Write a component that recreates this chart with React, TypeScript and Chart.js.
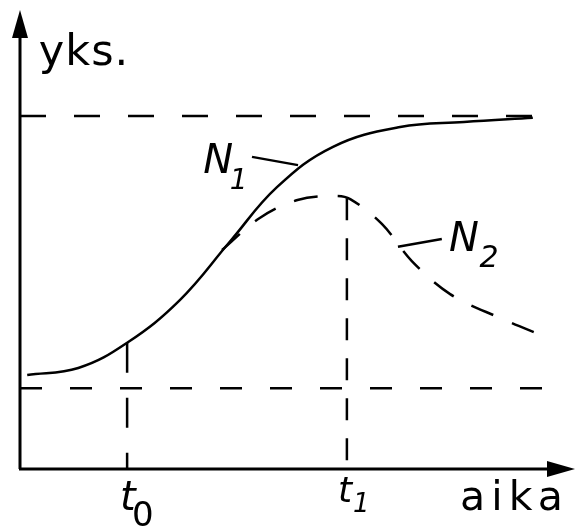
import React, { useEffect, useRef } from "react";
import { Chart, registerables } from "chart.js";

Chart.register(...registerables);

// Time axis: 0..100, value axis ("yks."): 0..100
const n1Time = [1.3, 10.5, 19.3, 28.8, 37.8, 46.3, 56.4, 68.5, 80, 92.4];
const n1Value = [20.5, 22, 27.5, 36.8, 49.5, 61.4, 70.2, 74.5, 75.6, 76.5];

const n2Time = [36.4, 43.2, 50.0, 56.8, 59.5, 65.2, 70.6, 77.5, 86.5, 94.6];
const n2Value = [47.7, 54.7, 58.6, 59.5, 58.8, 53.4, 45.3, 38.1, 32.9, 28.8];

const upperLevel = 76.9;
const upperEnd = 92.8;
const lowerLevel = 17.6;
const lowerEnd = 94.6;

const t0 = 19.3;
const n1AtT0 = 27.5;
const t1 = 58.9;
const n2AtT1 = 59.0;

const n1LeaderTime = [41.8, 50.1];
const n1LeaderValue = [68.0, 66.2];
const n2LeaderTime = [76.0, 68.1];
const n2LeaderValue = [50.1, 48.4];

const yAxisLabel = "yks.";
const xAxisLabel = "aika";
const seriesLabels = ["N", "1", "N", "2"];
const timeLabels = ["t", "0", "1"];

const pts = (xs: number[], ys: number[]) => xs.map((x, i) => ({ x, y: ys[i] }));

const INK = "#000000";

export default function App() {
  const ref = useRef<HTMLCanvasElement | null>(null);

  useEffect(() => {
    if (!ref.current) return;

    const overlay = {
      id: "overlay",
      beforeDatasetsDraw(chart: any) {
        const { ctx, chartArea } = chart;
        const { left, right, top, bottom } = chartArea;
        ctx.save();
        ctx.strokeStyle = INK;
        ctx.fillStyle = INK;
        ctx.lineWidth = 3;
        ctx.lineCap = "butt";
        ctx.beginPath();
        ctx.moveTo(left, bottom);
        ctx.lineTo(left, top + 20);
        ctx.stroke();
        ctx.beginPath();
        ctx.moveTo(left, top);
        ctx.lineTo(left - 8, top + 28);
        ctx.lineTo(left + 8, top + 28);
        ctx.closePath();
        ctx.fill();
        ctx.beginPath();
        ctx.moveTo(left - 1, bottom);
        ctx.lineTo(right - 20, bottom);
        ctx.stroke();
        ctx.beginPath();
        ctx.moveTo(right, bottom);
        ctx.lineTo(right - 28, bottom - 8);
        ctx.lineTo(right - 28, bottom + 8);
        ctx.closePath();
        ctx.fill();
        ctx.restore();
      },
      afterDraw(chart: any) {
        const { ctx, scales } = chart;
        const xs = scales.x;
        const ys = scales.y;
        ctx.save();
        ctx.fillStyle = INK;
        ctx.textBaseline = "alphabetic";
        ctx.textAlign = "left";

        ctx.font = "43px 'DejaVu Sans'";
        (ctx as any).letterSpacing = "1px";
        ctx.fillText(yAxisLabel, xs.getPixelForValue(3.4), ys.getPixelForValue(88.0));

        ctx.font = "41px 'DejaVu Sans'";
        (ctx as any).letterSpacing = "6px";
        ctx.fillText(xAxisLabel, xs.getPixelForValue(79.3), ys.getPixelForValue(-9.0));
        (ctx as any).letterSpacing = "0px";

        ctx.font = "italic 40px 'DejaVu Sans'";
        const t0x = xs.getPixelForValue(t0);
        ctx.fillText(timeLabels[0], t0x - 7, ys.getPixelForValue(-8.9));
        ctx.font = "34px 'DejaVu Sans'";
        ctx.fillText(timeLabels[1], t0x + 5, ys.getPixelForValue(-12.4));

        ctx.font = "italic 36px 'DejaVu Sans'";
        const t1x = xs.getPixelForValue(t1);
        ctx.fillText(timeLabels[0], t1x - 9, ys.getPixelForValue(-7.2));
        ctx.font = "italic 26px 'DejaVu Sans'";
        ctx.fillText(timeLabels[2], t1x + 6, ys.getPixelForValue(-9.4));

        ctx.font = "italic 40px 'DejaVu Sans'";
        ctx.fillText(seriesLabels[0], xs.getPixelForValue(33.0), ys.getPixelForValue(64.5));
        ctx.font = "italic 28px 'DejaVu Sans'";
        ctx.fillText(seriesLabels[1], xs.getPixelForValue(37.8), ys.getPixelForValue(61.0));

        ctx.font = "italic 40px 'DejaVu Sans'";
        ctx.fillText(seriesLabels[2], xs.getPixelForValue(77.3), ys.getPixelForValue(47.4));
        ctx.font = "italic 30px 'DejaVu Sans'";
        ctx.fillText(seriesLabels[3], xs.getPixelForValue(82.8), ys.getPixelForValue(44.0));
        ctx.restore();
      },
    };

    const dashed = (data: any[], dash: number[], width = 2.5, tension = 0) => ({
      data,
      borderColor: INK,
      borderWidth: width,
      borderDash: dash,
      pointRadius: 0,
      fill: false,
      tension,
    });

    const chart = new Chart(ref.current, {
      type: "line",
      data: {
        datasets: [
          dashed(pts([0, upperEnd], [upperLevel, upperLevel]), [26, 28]),
          dashed(pts([0, lowerEnd], [lowerLevel, lowerLevel]), [22, 28]),
          dashed(pts([t0, t0], [n1AtT0, 0]), [30, 25]),
          dashed(pts([t1, t1], [n2AtT1, 0]), [22, 18]),
          dashed(pts(n2Time, n2Value), [24, 20], 2.5, 0.35),
          dashed(pts(n1Time, n1Value), [], 2.5, 0.4),
          dashed(pts(n1LeaderTime, n1LeaderValue), [], 2.5),
          dashed(pts(n2LeaderTime, n2LeaderValue), [], 2.5),
        ] as any,
      },
      options: {
        animation: false,
        responsive: true,
        maintainAspectRatio: false,
        layout: { padding: { left: 20, right: 3, top: 10, bottom: 58 } },
        plugins: { legend: { display: false }, tooltip: { enabled: false }, title: { display: false } },
        events: [],
        scales: {
          x: { type: "linear", min: 0, max: 100, display: false },
          y: { type: "linear", min: 0, max: 100, display: false },
        },
      } as any,
      plugins: [overlay],
    });
    return () => chart.destroy();
  }, []);

  return (
    <div style={{ position: "fixed", left: 0, top: 0, width: 578, height: 527, background: "#fff" }}>
      <canvas ref={ref} />
    </div>
  );
}
